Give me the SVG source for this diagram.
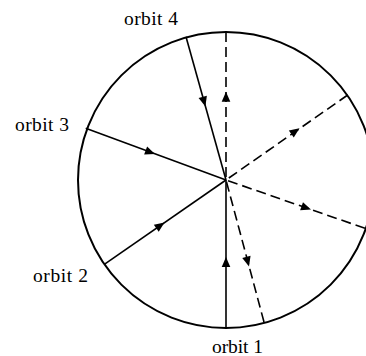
<svg xmlns="http://www.w3.org/2000/svg" width="366" height="356" viewBox="0 0 366 356">
<defs>
<style>
.circ{fill:none;stroke:#000;stroke-width:2}
.solid{fill:none;stroke:#000;stroke-width:1.6}
.dash{fill:none;stroke:#000;stroke-width:1.6;stroke-dasharray:10 5}
.lbl{font-family:"Liberation Serif","Times New Roman",serif;font-size:19.5px;fill:#000}
</style>
<polygon id="ah" points="0,0 -10,-4.3 -10,4.3" fill="#000"/>
</defs>
<rect width="366" height="356" fill="#fff"/>
<g id="boundary">
<circle class="circ" cx="226" cy="180" r="148"/>
</g>
<g id="connectors">
<path class="solid" d="M226,328 L226,180"/>
<path class="dash" d="M264,322 L226,180"/>
<path class="solid" d="M104.3,264.3 L226,180"/>
<path class="solid" d="M85.7,128.3 L226,180"/>
<path class="solid" d="M186,36.7 L226,180"/>
<path class="dash" d="M226,32 L226,180"/>
<path class="dash" d="M347.7,95 L226,180"/>
<path class="dash" d="M365,228.3 L226,180"/>
<use href="#ah" transform="translate(226,257) rotate(-90)"/>
<use href="#ah" transform="translate(249,266.5) rotate(75)"/>
<use href="#ah" transform="translate(164.5,222.5) rotate(-34.7)"/>
<use href="#ah" transform="translate(155,153.9) rotate(20.2)"/>
<use href="#ah" transform="translate(205.4,106.5) rotate(74.5)"/>
<use href="#ah" transform="translate(226,91.7) rotate(-90)"/>
<use href="#ah" transform="translate(299.5,128.3) rotate(-34.9)"/>
<use href="#ah" transform="translate(311,209.6) rotate(19.2)"/>
</g>
<g id="orbit1"><text class="lbl" x="212" y="352.5" textLength="51" lengthAdjust="spacing">orbit 1</text></g>
<g id="orbit2"><text class="lbl" x="33" y="281.5" textLength="55" lengthAdjust="spacing">orbit 2</text></g>
<g id="orbit3"><text class="lbl" x="15" y="131" textLength="54" lengthAdjust="spacing">orbit 3</text></g>
<g id="orbit4"><text class="lbl" x="124" y="25" textLength="54" lengthAdjust="spacing">orbit 4</text></g>
</svg>
